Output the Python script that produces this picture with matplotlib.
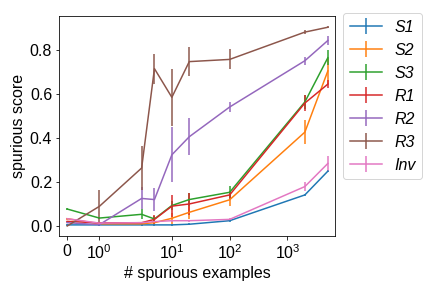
import numpy as np
import matplotlib
matplotlib.use("Agg")
import matplotlib.pyplot as plt
from matplotlib.ticker import NullLocator

plt.rcParams['font.family'] = ['Liberation Sans', 'DejaVu Sans']
plt.rcParams['font.size'] = 16

# number of spurious examples
n_examples = [0, 1, 3, 5, 10, 20, 100, 2000, 5000]

labels = ['S1', 'S2', 'S3', 'R1', 'R2', 'R3', 'Inv']

s1 = [0.005, 0.005, 0.005, 0.005, 0.005, 0.008, 0.024, 0.141, 0.249]
s1_err = [0.003, 0.003, 0.003, 0.003, 0.003, 0.004, 0.005, 0.006, 0.006]

s2 = [0.033, 0.01, 0.01, 0.015, 0.035, 0.062, 0.119, 0.426, 0.704]
s2_err = [0.004, 0.004, 0.005, 0.01, 0.025, 0.03, 0.028, 0.054, 0.06]

s3 = [0.077, 0.036, 0.053, 0.032, 0.093, 0.12, 0.153, 0.563, 0.764]
s3_err = [0.005, 0.005, 0.022, 0.015, 0.02, 0.028, 0.027, 0.03, 0.034]

r1 = [0.021, 0.014, 0.015, 0.03, 0.09, 0.1, 0.141, 0.558, 0.644]
r1_err = [0.003, 0.003, 0.004, 0.02, 0.05, 0.05, 0.02, 0.037, 0.02]

r2 = [0.015, 0.006, 0.125, 0.12, 0.323, 0.405, 0.54, 0.75, 0.842]
r2_err = [0.003, 0.004, 0.05, 0.053, 0.125, 0.085, 0.024, 0.018, 0.019]

r3 = [0.0, 0.089, 0.263, 0.714, 0.584, 0.746, 0.756, 0.88, 0.902]
r3_err = [0.002, 0.074, 0.1, 0.068, 0.13, 0.065, 0.045, 0.01, 0.005]

inv = [0.033, 0.013, 0.015, 0.02, 0.024, 0.024, 0.03, 0.179, 0.284]
inv_err = [0.003, 0.003, 0.003, 0.004, 0.005, 0.005, 0.005, 0.02, 0.035]

scores = [s1, s2, s3, r1, r2, r3, inv]
errors = [s1_err, s2_err, s3_err, r1_err, r2_err, r3_err, inv_err]

fig = plt.figure(figsize=(6, 4), dpi=72)
ax = fig.add_axes([0.137, 0.179, 0.639, 0.765])

for lab, y, e in zip(labels, scores, errors):
    ax.errorbar(n_examples, y, yerr=e, label=lab, lw=1.5)

ax.set_xscale('symlog', linthresh=2)
ax.xaxis.set_minor_locator(NullLocator())
ax.set_xlim(-0.25, 6700)
ax.set_xlabel('# spurious examples')
ax.set_ylabel('spurious score')
ax.set_yticks([0.0, 0.2, 0.4, 0.6, 0.8])

leg = ax.legend(loc='upper left', bbox_to_anchor=(1.0, 1.05),
                prop={'style': 'italic', 'size': 16})

fig.savefig('out.png', dpi=72)
